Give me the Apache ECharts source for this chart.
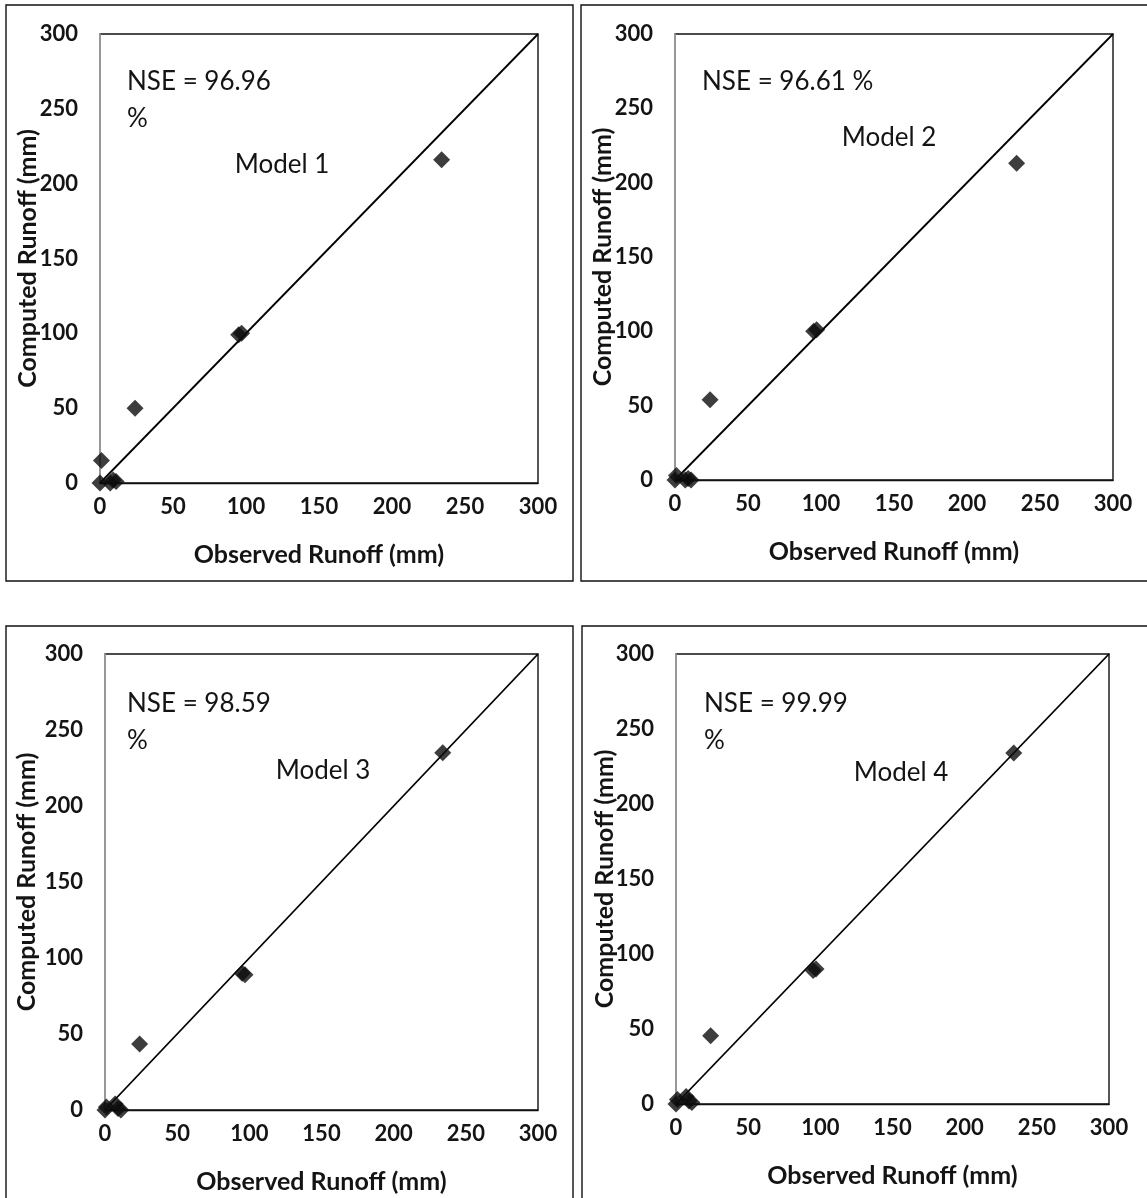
<!DOCTYPE html>
<html>
<head>
<meta charset="utf-8">
<title>Observed vs Computed Runoff</title>
<script src="https://cdn.jsdelivr.net/npm/echarts@6/dist/echarts.min.js"></script>
<style>
  html, body { margin: 0; padding: 0; background: #fff; }
  #chart { width: 1147px; height: 1198px; }
</style>
</head>
<body>
<div id="chart"></div>
<script>
// Observed runoff (mm) for the calibration events, shared by all four models
const observed = [0, 1, 7, 9, 11, 24, 95, 97, 234];

// Computed runoff (mm) from each model for the same events
const model1 = [0, 15, 0, 2, 1, 50, 99, 100, 216];
const model2 = [0, 3, 0, 1, 0, 54, 100, 101, 213];
const model3 = [0, 2, 4, 1, 0, 43.5, 90, 89, 235];
const model4 = [0, 3, 5, 2, 1, 45.5, 89, 90, 234];

// 1:1 reference line end points
const oneToOne = [[0, 0], [300, 300]];

const modelNames = ['Model 1', 'Model 2', 'Model 3', 'Model 4'];
const nseText = ['NSE = 96.96\n%', 'NSE = 96.61 %', 'NSE = 98.59\n%', 'NSE = 99.99\n%'];
const modelValues = [model1, model2, model3, model4];

const axisTicks = { min: 0, max: 300, interval: 50 };
const xTitle = 'Observed Runoff (mm)';
const yTitle = 'Computed Runoff (mm)';

const FONT = 'Lato, "Open Sans", sans-serif';
const INK = '#141414';

// panel layout: plot rectangle, frame, text anchors
const panels = [
  { grid: { left: 100, top: 34, width: 438, height: 449 }, yGap: 60, xGap: 59,
    frame: { x: 6, y: 5, w: 567, h: 576 }, nse: [127, 63], model: [282, 165] },
  { grid: { left: 675, top: 34, width: 438, height: 446 }, yGap: 60, xGap: 59,
    frame: { x: 581, y: 5, w: 580, h: 576 }, nse: [702, 63], model: [889, 138] },
  { grid: { left: 105, top: 654, width: 433, height: 456 }, yGap: 66, xGap: 59,
    frame: { x: 6, y: 626, w: 567, h: 600 }, nse: [127, 685], model: [323, 771] },
  { grid: { left: 676, top: 654, width: 433, height: 450 }, yGap: 59, xGap: 59,
    frame: { x: 582, y: 626, w: 580, h: 600 }, nse: [704, 685], model: [901, 773] }
];

const grids = [], xAxes = [], yAxes = [], series = [], graphics = [];

panels.forEach((p, i) => {
  grids.push(Object.assign({ show: true, borderColor: '#111', borderWidth: 1.4, backgroundColor: 'transparent' }, p.grid));

  xAxes.push({
    type: 'value', gridIndex: i,
    min: axisTicks.min, max: axisTicks.max, interval: axisTicks.interval,
    name: xTitle, nameLocation: 'middle', nameGap: p.xGap, nameMoveOverlap: false,
    nameTextStyle: { fontFamily: FONT, fontWeight: 'bold', fontSize: 25, color: INK },
    axisLine: { show: true, lineStyle: { color: '#111', width: 1.4 } },
    axisTick: { show: false },
    splitLine: { show: false },
    axisLabel: { margin: 13, fontFamily: FONT, fontWeight: 'bold', fontSize: 22, color: INK }
  });

  yAxes.push({
    type: 'value', gridIndex: i,
    min: axisTicks.min, max: axisTicks.max, interval: axisTicks.interval,
    name: yTitle, nameLocation: 'middle', nameGap: p.yGap, nameRotate: 90, nameMoveOverlap: false,
    nameTextStyle: { fontFamily: FONT, fontWeight: 'bold', fontSize: 25, color: INK },
    axisLine: { show: true, lineStyle: { color: '#a8a8a8', width: 1.6 } },
    axisTick: { show: false },
    splitLine: { show: false },
    axisLabel: { margin: 22, fontFamily: FONT, fontWeight: 'bold', fontSize: 22, color: INK }
  });

  series.push({
    type: 'line', xAxisIndex: i, yAxisIndex: i,
    data: oneToOne, showSymbol: false, silent: true,
    lineStyle: { color: '#000', width: 1.8 }, z: 2
  });

  series.push({
    type: 'scatter', xAxisIndex: i, yAxisIndex: i,
    name: modelNames[i],
    data: observed.map((o, k) => [o, modelValues[i][k]]),
    symbol: 'diamond', symbolSize: 17,
    itemStyle: { color: '#0d0d0d' }, z: 3
  });

  graphics.push({
    type: 'rect', silent: true, z: 0,
    shape: { x: p.frame.x, y: p.frame.y, width: p.frame.w, height: p.frame.h },
    style: { fill: 'none', stroke: '#111', lineWidth: 1.4 }
  });

  graphics.push({
    type: 'text', silent: true, z: 10,
    x: p.nse[0], y: p.nse[1],
    style: { text: nseText[i], font: '26px ' + FONT, fill: INK, lineHeight: 37, textAlign: 'left', textVerticalAlign: 'top' }
  });

  graphics.push({
    type: 'text', silent: true, z: 10,
    x: p.model[0], y: p.model[1],
    style: { text: modelNames[i], font: '26px ' + FONT, fill: INK, textAlign: 'center', textVerticalAlign: 'middle' }
  });
});

const chart = echarts.init(document.getElementById('chart'), null, { renderer: 'canvas' });
chart.setOption({
  animation: false,
  backgroundColor: '#fff',
  grid: grids,
  xAxis: xAxes,
  yAxis: yAxes,
  series: series,
  graphic: graphics
});
</script>
</body>
</html>
